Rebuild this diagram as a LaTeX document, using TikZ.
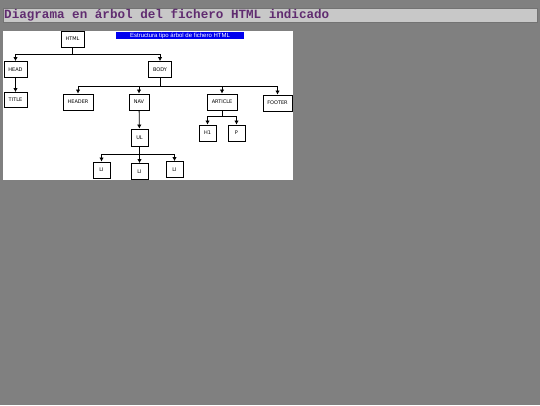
\documentclass[tikz,border=0pt]{standalone}
\usepackage{fontspec}
\setmainfont{DejaVu Sans}
\newfontfamily\titlefont{Liberation Mono}
\newfontfamily\labelfont{Liberation Sans}
\usetikzlibrary{arrows.meta}
\definecolor{titlepurple}{RGB}{96,44,112}
\definecolor{bargrey}{RGB}{200,200,200}
\definecolor{labelblue}{RGB}{0,0,238}

\begin{document}
\begin{tikzpicture}[x=1pt,y=-1pt,
  tag/.style={draw,line width=0.9pt,fill=white,inner sep=0pt,minimum height=16pt,font=\fontsize{5}{5}\selectfont},
  tip/.style={-{Latex[length=4pt,width=4.5pt]},line width=0.8pt}]
% background
\fill[gray] (0,0) rectangle (540,405);
\useasboundingbox (0,0) rectangle (540,405);
\filldraw[fill=bargrey,draw=gray!90!black,line width=0.4pt] (3,8) rectangle (537,22);
\node[anchor=west,inner sep=0pt,text=titlepurple,font=\titlefont\bfseries\fontsize{12.6}{14}\selectfont] (title) at (4,15) {Diagrama en árbol del fichero HTML indicado};
\fill[white] (3,31) rectangle (293,180);
\node[fill=labelblue,text=white,inner sep=0pt,minimum width=128pt,minimum height=7.5pt,font=\labelfont\fontsize{6}{6}\selectfont] (caption) at (180,35.5) {Estructura tipo árbol de fichero HTML};

\node[tag,minimum width=23pt] (html) at (72.5,39) {HTML};
\node[tag,minimum width=23pt] (head) at (15.5,69.5) {HEAD};
\node[tag,minimum width=23pt] (body) at (160,69.5) {BODY};
\node[tag,minimum width=23pt,minimum height=15pt] (title2) at (15.5,100) {TITLE};
\node[tag,minimum width=30pt] (header) at (78,102) {HEADER};
\node[tag,minimum width=20pt] (nav) at (139,102) {NAV};
\node[tag,minimum width=30pt] (article) at (222,102) {ARTICLE};
\node[tag,minimum width=29pt] (footer) at (277.5,103) {FOOTER};
\node[tag,minimum width=17pt] (h1) at (207.5,133) {H1};
\node[tag,minimum width=17pt] (p) at (236.5,133) {P};
\node[tag,minimum width=17pt,minimum height=17pt] (ul) at (139.5,137.5) {UL};
\node[tag,minimum width=17pt] (li1) at (101.5,170) {LI};
\node[tag,minimum width=17pt] (li2) at (139.5,171.5) {LI};
\node[tag,minimum width=17pt] (li3) at (174.5,169.5) {LI};

\draw[tip] (html.south) -- ++(0,7) -| (head.north);
\draw[tip] (html.south) -- ++(0,7) -| (body.north);
\draw[tip] (head) -- (title2);
\foreach \kid in {header,nav,article,footer}
  \draw[tip] (body.south) -- ++(0,8.5) -| (\kid.north);
\draw[tip] (article.south) -- ++(0,6) -| (h1.north);
\draw[tip] (article.south) -- ++(0,6) -| (p.north);
\draw[tip] (nav) -- (ul);
\foreach \kid in {li1,li2,li3}
  \draw[tip] (ul.south) -- ++(0,8) -| (\kid.north);
\end{tikzpicture}
\end{document}
